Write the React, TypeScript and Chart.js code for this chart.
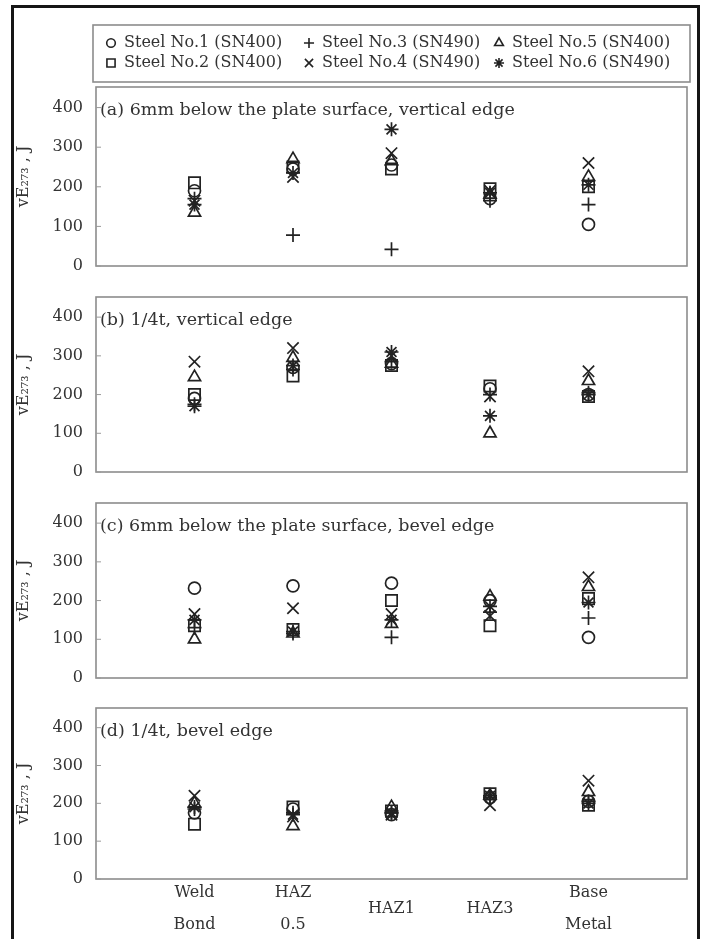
import React, { useEffect, useRef } from 'react';
import { Chart, registerables } from 'chart.js';
import { drawPoint } from 'chart.js/helpers';

Chart.register(...registerables);

// ---------- data ----------
const categories: (string | string[])[] = [['Weld', 'Bond'], ['HAZ', '0.5'], 'HAZ1', 'HAZ3', ['Base', 'Metal']];
const categoryPositions = [1, 2, 3, 4, 5];
const steelNames = [
  'Steel No.1 (SN400)',
  'Steel No.2 (SN400)',
  'Steel No.3 (SN490)',
  'Steel No.4 (SN490)',
  'Steel No.5 (SN400)',
  'Steel No.6 (SN490)',
];
const pointStyles = ['circle', 'rect', 'cross', 'crossRot', 'triangle', 'star'];
const pointRadii = [6, 8, 7, 8, 7, 7];
const yTicks = [0, 100, 200, 300, 400];
const yTitle = 'vE\u2082\u2087\u2083 , J';
const panelTitles = [
  '(a) 6mm below the plate surface, vertical edge',
  '(b) 1/4t, vertical edge',
  '(c) 6mm below the plate surface, bevel edge',
  '(d) 1/4t, bevel edge',
];

// values per steel (rows: Steel No.1..6), columns follow categories
const panelA = [
  [190, 245, 255, 170, 105],
  [210, 250, 245, 195, 200],
  [170, 78, 42, 165, 155],
  [165, 225, 285, 190, 260],
  [135, 270, 265, 180, 225],
  [155, 235, 345, 185, 205],
];
const panelB = [
  [190, 270, 280, 215, 200],
  [200, 248, 275, 222, 195],
  [175, 265, 285, 200, 205],
  [285, 320, 300, 195, 260],
  [245, 295, 280, 100, 235],
  [170, 275, 310, 145, 200],
];
const panelC = [
  [232, 238, 245, 200, 105],
  [135, 125, 200, 135, 205],
  [130, 115, 105, 170, 155],
  [165, 180, 165, 160, 260],
  [100, 115, 140, 210, 235],
  [150, 120, 150, 185, 195],
];
const panelD = [
  [175, 185, 170, 215, 205],
  [145, 190, 180, 225, 195],
  [185, 175, 175, 215, 205],
  [220, 165, 170, 195, 260],
  [200, 140, 190, 220, 230],
  [190, 170, 175, 220, 200],
];
const panels = [panelA, panelB, panelC, panelD];

// ---------- layout ----------
const FONT = "'DejaVu Serif', 'Liberation Serif', serif";
const MARK = '#222222';
const TEXT = '#333333';
const BOX = '#8c8c8c';

const layouts = [
  { top: 0, height: 290, padTop: 87, xHeight: 24 },
  { top: 274, height: 226, padTop: 23, xHeight: 28 },
  { top: 480, height: 225, padTop: 23, xHeight: 27 },
  { top: 685, height: 254, padTop: 23, xHeight: 60 },
];

const legendOrder = [
  [0, 1],
  [2, 3],
  [4, 5],
];

function makePanelPlugin(idx: number) {
  return {
    id: 'panelDecor' + idx,
    afterDraw(chart: any) {
      const { ctx, chartArea } = chart;
      const ys = chart.scales.y;
      ctx.save();
      // frame
      ctx.strokeStyle = BOX;
      ctx.lineWidth = 1.6;
      ctx.strokeRect(chartArea.left, chartArea.top, chartArea.right - chartArea.left, chartArea.bottom - chartArea.top);
      // inner ticks
      ctx.strokeStyle = '#9a9a9a';
      ctx.lineWidth = 1;
      yTicks.forEach((v) => {
        const y = ys.getPixelForValue(v);
        ctx.beginPath();
        ctx.moveTo(chartArea.left, y);
        ctx.lineTo(chartArea.left + 5, y);
        ctx.stroke();
      });
      // panel title
      ctx.fillStyle = TEXT;
      ctx.font = `17.5px ${FONT}`;
      ctx.textBaseline = 'middle';
      ctx.textAlign = 'left';
      ctx.fillText(panelTitles[idx], chartArea.left + 4, chartArea.top + 23);

      if (idx === 0) {
        // legend box
        ctx.strokeStyle = BOX;
        ctx.lineWidth = 1.6;
        ctx.strokeRect(93, 25, 597, 57);
        const colMarker = [111, 309, 499];
        const colText = [124, 322, 512];
        const rowY = [43, 63];
        legendOrder.forEach((col, c) => {
          col.forEach((si, r) => {
            const ds = chart.data.datasets[si];
            ctx.strokeStyle = MARK;
            ctx.fillStyle = 'rgba(0,0,0,0)';
            drawPoint(
              ctx,
              {
                pointStyle: ds.pointStyle,
                radius: ds.pointRadius * 0.72,
                borderWidth: 1.3,
                rotation: 0,
              } as any,
              colMarker[c],
              rowY[r]
            );
            ctx.fillStyle = TEXT;
            ctx.font = `16px ${FONT}`;
            ctx.textBaseline = 'middle';
            ctx.fillText(steelNames[si], colText[c], rowY[r]);
          });
        });
      }
      ctx.restore();
    },
  };
}

function Panel({ idx }: { idx: number }) {
  const ref = useRef<HTMLCanvasElement>(null);
  const lay = layouts[idx];
  useEffect(() => {
    if (!ref.current) return;
    const values = panels[idx];
    const isLast = idx === panels.length - 1;
    const chart = new Chart(ref.current, {
      type: 'scatter',
      data: {
        datasets: values.map((row, si) => ({
          label: steelNames[si],
          data: row.map((v, ci) => ({ x: categoryPositions[ci], y: v })),
          pointStyle: pointStyles[si] as any,
          pointRadius: pointRadii[si],
          pointBorderWidth: 1.7,
          borderColor: MARK,
          backgroundColor: 'rgba(0,0,0,0)',
          pointBackgroundColor: 'rgba(0,0,0,0)',
          pointBorderColor: MARK,
        })),
      },
      options: {
        animation: false,
        responsive: false,
        events: [],
        layout: { autoPadding: false, padding: { top: lay.padTop, right: 14, left: 0, bottom: 0 } },
        plugins: {
          legend: { display: false },
          tooltip: { enabled: false },
        },
        scales: {
          x: {
            type: 'linear',
            min: 0,
            max: 6,
            grid: { display: false, drawTicks: false },
            border: { display: false },
            afterBuildTicks: (scale: any) => {
              scale.ticks = categoryPositions.map((v) => ({ value: v }));
            },
            afterFit: (scale: any) => {
              scale.height = lay.xHeight;
            },
            ticks: {
              display: isLast,
              padding: 14,
              maxRotation: 0,
              autoSkip: false,
              crossAlign: 'center',
              color: TEXT,
              font: { family: FONT, size: 16, lineHeight: 2 },
              callback: (v: any) => {
                const i = categoryPositions.indexOf(Number(v));
                return i >= 0 ? (categories[i] as any) : '';
              },
            },
          },
          y: {
            type: 'linear',
            min: 0,
            max: 452,
            grid: { display: false, drawTicks: false },
            border: { display: false },
            afterFit: (scale: any) => {
              scale.width = 96;
            },
            afterBuildTicks: (scale: any) => {
              scale.ticks = yTicks.map((v) => ({ value: v }));
            },
            ticks: {
              padding: 13,
              color: TEXT,
              font: { family: FONT, size: 16 },
            },
            title: {
              display: true,
              text: yTitle,
              color: TEXT,
              font: { family: FONT, size: 16 },
              padding: { top: 14, bottom: 0 },
            },
          },
        },
      } as any,
      plugins: [makePanelPlugin(idx)],
    });
    return () => chart.destroy();
  }, [idx]);
  return (
    <canvas
      ref={ref}
      width={701}
      height={lay.height}
      style={{ position: 'absolute', left: 0, top: lay.top, width: 701, height: lay.height, display: 'block' }}
    />
  );
}

export default function App() {
  return (
    <div
      style={{
        position: 'absolute',
        left: 0,
        top: 0,
        width: 701,
        height: 939,
        overflow: 'hidden',
        background: '#ffffff',
      }}
    >
      <div
        style={{
          position: 'absolute',
          left: 11,
          top: 5,
          width: 689,
          height: 1100,
          boxSizing: 'border-box',
          borderLeft: '3px solid #161616',
          borderTop: '3px solid #161616',
          borderRight: '3px solid #161616',
        }}
      />
      {panels.map((_, i) => (
        <Panel key={i} idx={i} />
      ))}
    </div>
  );
}
